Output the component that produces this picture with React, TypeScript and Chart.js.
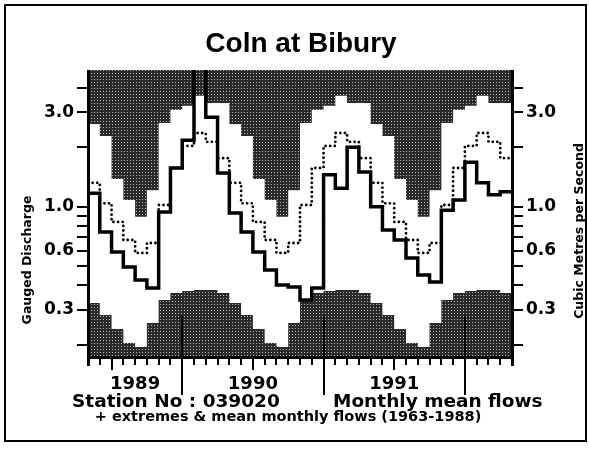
import React, { useEffect, useRef } from 'react';
import { Chart, registerables } from 'chart.js';

Chart.register(...registerables);

// First plotted month is May 1989 (calendar index 4, Jan = 0); 36 months to Apr 1992
const START_CAL_MONTH = 4;

// Observed monthly mean flows, May 1989 – Apr 1992 (m3/s)
const monthlyFlow = [
  1.17, 0.745, 0.59, 0.495, 0.426, 0.388, 0.94, 1.57,
  2.17, 5.6, 2.84, 1.48, 0.93, 0.745, 0.59, 0.478, 0.401, 0.392, 0.337, 0.388,
  1.45, 1.24, 2.0, 1.5, 1.0, 0.762, 0.678, 0.55, 0.451, 0.416, 0.96, 1.08,
  1.68, 1.32, 1.15, 1.19,
];

// Calendar-month statistics 1963-1988, Jan..Dec
const maxFlow = [3.24, 3.64, 3.35, 3.35, 2.62, 2.28, 1.38, 1.08, 0.89, 1.21, 2.65, 3.1];
const meanFlow = [2.03, 2.36, 2.13, 1.76, 1.32, 1.04, 0.837, 0.678, 0.583, 0.655, 1.02, 1.57];
const minFlow = [0.374, 0.379, 0.379, 0.366, 0.325, 0.283, 0.24, 0.204, 0.195, 0.258, 0.337, 0.366];

const yTickValues = [4, 3, 2, 1, 0.9, 0.8, 0.7, 0.6, 0.5, 0.4, 0.3, 0.2];
const yTickLabelValues = [3, 1, 0.6, 0.3];
const yTickLabelTexts = ['3.0', '1.0', '0.6', '0.3'];

const yearLabels = ['1989', '1990', '1991'];
const yearLabelMonths = [4, 14, 26];
const yearStartMonths = [8, 20, 32];
const midYearMonths = [2, 14, 26];

const Y_MIN = 0.1734;
const Y_MAX = 4.92;

const FONT = 'DejaVu Sans';

function stepPoints(vals: number[]) {
  return vals
    .map((v, i) => ({ x: i, y: v }))
    .concat([{ x: vals.length, y: vals[vals.length - 1] }]);
}

function calendarSeries(arr: number[]) {
  return monthlyFlow.map((_, i) => arr[(START_CAL_MONTH + i) % 12]);
}

function makePattern(): CanvasPattern | string {
  const c = document.createElement('canvas');
  c.width = 3;
  c.height = 3;
  const g = c.getContext('2d');
  if (!g) return '#3c3c3c';
  g.fillStyle = '#2a2a2a';
  g.fillRect(0, 0, 3, 3);
  g.fillStyle = '#b8b8b8';
  g.fillRect(1, 1, 1, 1);
  const p = g.createPattern(c, 'repeat');
  return p || '#3c3c3c';
}

const decorPlugin = {
  id: 'decor',
  afterDraw(chart: any) {
    const ctx = chart.ctx as CanvasRenderingContext2D;
    const xs = chart.scales.x;
    const ys = chart.scales.y;
    const ca = chart.chartArea;
    const L = Math.round(ca.left);
    const R = Math.round(ca.right);
    const B = Math.round(ca.bottom);
    const T = Math.round(ca.top);
    ctx.save();
    ctx.setLineDash([]);
    ctx.fillStyle = '#000';

    // Axis lines
    ctx.fillRect(L - 1, T, 3, B - T + 9);
    ctx.fillRect(R - 1, T, 3, B - T + 9);
    ctx.fillRect(L - 1, B - 1, R - L + 3, 3);

    // Y tick marks on both sides
    yTickValues.forEach((v) => {
      const py = Math.round(ys.getPixelForValue(v));
      ctx.fillRect(L - 11, py - 1, 11, 2);
      ctx.fillRect(R, py - 1, 11, 2);
    });

    // Month ticks, year dividers, mid-year ticks
    for (let i = 0; i <= monthlyFlow.length; i++) {
      const px = Math.round(xs.getPixelForValue(i));
      ctx.fillRect(px - 1, B, 2, 8);
    }
    yearStartMonths.forEach((m) => {
      const px = Math.round(xs.getPixelForValue(m));
      ctx.fillRect(px - 1, B - 41, 2, 79);
    });
    midYearMonths.forEach((m) => {
      const px = Math.round(xs.getPixelForValue(m));
      ctx.fillRect(px - 1, B, 2, 13);
    });

    // Title
    ctx.font = 'bold 28px "Liberation Sans", Arial, sans-serif';
    ctx.textAlign = 'center';
    ctx.textBaseline = 'alphabetic';
    ctx.fillText('Coln at Bibury', 301, 52);

    // Footer
    ctx.textAlign = 'left';
    ctx.font = `bold 18.5px "${FONT}"`;
    ctx.fillText('Station No : 039020', 72, 407);
    ctx.fillText('Monthly mean flows', 333, 407);
    ctx.textAlign = 'center';
    ctx.font = `bold 14.5px "${FONT}"`;
    ctx.fillText('+ extremes & mean monthly flows (1963-1988)', 288, 421);

    // Axis titles (both read bottom to top)
    ctx.font = `bold 12.5px "${FONT}"`;
    ctx.textBaseline = 'middle';
    ctx.save();
    ctx.translate(27.5, 260);
    ctx.rotate(-Math.PI / 2);
    ctx.fillText('Gauged Discharge', 0, 0);
    ctx.restore();
    ctx.save();
    ctx.translate(580, 231);
    ctx.rotate(-Math.PI / 2);
    ctx.fillText('Cubic Metres per Second', 0, 0);
    ctx.restore();

    // Outer frame
    ctx.fillRect(4, 4, 583, 2);
    ctx.fillRect(4, 440, 583, 2);
    ctx.fillRect(4, 4, 2, 438);
    ctx.fillRect(585, 4, 2, 438);
    ctx.restore();
  },
};

function yTickLabel(value: number) {
  const k = yTickLabelValues.findIndex((v) => Math.abs(v - value) < 1e-9);
  return k >= 0 ? yTickLabelTexts[k] : '';
}

function yAxis(position: 'left' | 'right', width: number) {
  return {
    type: 'logarithmic' as const,
    position,
    min: Y_MIN,
    max: Y_MAX,
    bounds: 'data' as const,
    afterBuildTicks: (s: any) => {
      s.ticks = yTickValues.map((v) => ({ value: v }));
    },
    afterFit: (s: any) => {
      s.width = width;
    },
    border: { display: false },
    grid: {
      display: true,
      drawOnChartArea: false,
      drawTicks: true,
      tickLength: 11,
      tickColor: 'rgba(0,0,0,0)',
      color: 'rgba(0,0,0,0)',
    },
    ticks: {
      display: true,
      autoSkip: false,
      padding: 3,
      color: '#000',
      font: { family: FONT, weight: 'bold' as const, size: 17 },
      callback: (v: any) => yTickLabel(Number(v)),
    },
  };
}

export default function App() {
  const ref = useRef<HTMLCanvasElement | null>(null);

  useEffect(() => {
    if (!ref.current) return;
    const pattern = makePattern();
    const chart = new Chart(ref.current, {
      type: 'line',
      data: {
        datasets: [
          {
            label: 'Monthly mean flows',
            data: stepPoints(monthlyFlow),
            stepped: 'before',
            borderColor: '#000',
            borderWidth: 3.5,
            borderJoinStyle: 'miter',
            pointRadius: 0,
            fill: false,
          },
          {
            label: 'Mean monthly flows 1963-1988',
            data: stepPoints(calendarSeries(meanFlow)),
            stepped: 'before',
            borderColor: '#000',
            borderWidth: 2.8,
            borderDash: [0.01, 4.6],
            borderCapStyle: 'round',
            pointRadius: 0,
            fill: false,
          },
          {
            label: 'Maximum',
            data: stepPoints(calendarSeries(maxFlow)),
            stepped: 'before',
            borderColor: 'rgba(0,0,0,0)',
            borderWidth: 0,
            pointRadius: 0,
            backgroundColor: pattern as any,
            fill: 'end',
          },
          {
            label: 'Minimum',
            data: stepPoints(calendarSeries(minFlow)),
            stepped: 'before',
            borderColor: 'rgba(0,0,0,0)',
            borderWidth: 0,
            pointRadius: 0,
            backgroundColor: pattern as any,
            fill: 'start',
          },
        ],
      } as any,
      options: {
        animation: false,
        responsive: false,
        devicePixelRatio: 1,
        layout: { padding: { left: 0, right: 0, top: 70, bottom: 54 } },
        plugins: {
          legend: { display: false },
          title: { display: false },
          tooltip: { enabled: false },
        },
        scales: {
          x: {
            type: 'linear',
            min: 0,
            max: monthlyFlow.length,
            bounds: 'data',
            afterBuildTicks: (s: any) => {
              s.ticks = Array.from({ length: monthlyFlow.length + 1 }, (_, i) => ({ value: i }));
            },
            afterFit: (s: any) => {
              s.height = 40;
            },
            border: { display: false },
            grid: {
              display: true,
              drawOnChartArea: false,
              drawTicks: true,
              tickLength: 8,
              tickColor: 'rgba(0,0,0,0)',
              color: 'rgba(0,0,0,0)',
            },
            ticks: {
              autoSkip: false,
              maxRotation: 0,
              minRotation: 0,
              padding: 9,
              color: '#000',
              font: { family: FONT, weight: 'bold', size: 18 },
              callback: (v: any) => {
                const k = yearLabelMonths.indexOf(Number(v));
                return k >= 0 ? yearLabels[k] : '';
              },
            },
          },
          y: yAxis('left', 88),
          y2: yAxis('right', 77),
        } as any,
      },
      plugins: [decorPlugin],
    });
    return () => chart.destroy();
  }, []);

  return (
    <div style={{ position: 'fixed', left: 0, top: 0, width: 589, height: 451, background: '#fff' }}>
      <canvas ref={ref} width={589} height={451} style={{ display: 'block', width: 589, height: 451 }} />
    </div>
  );
}
